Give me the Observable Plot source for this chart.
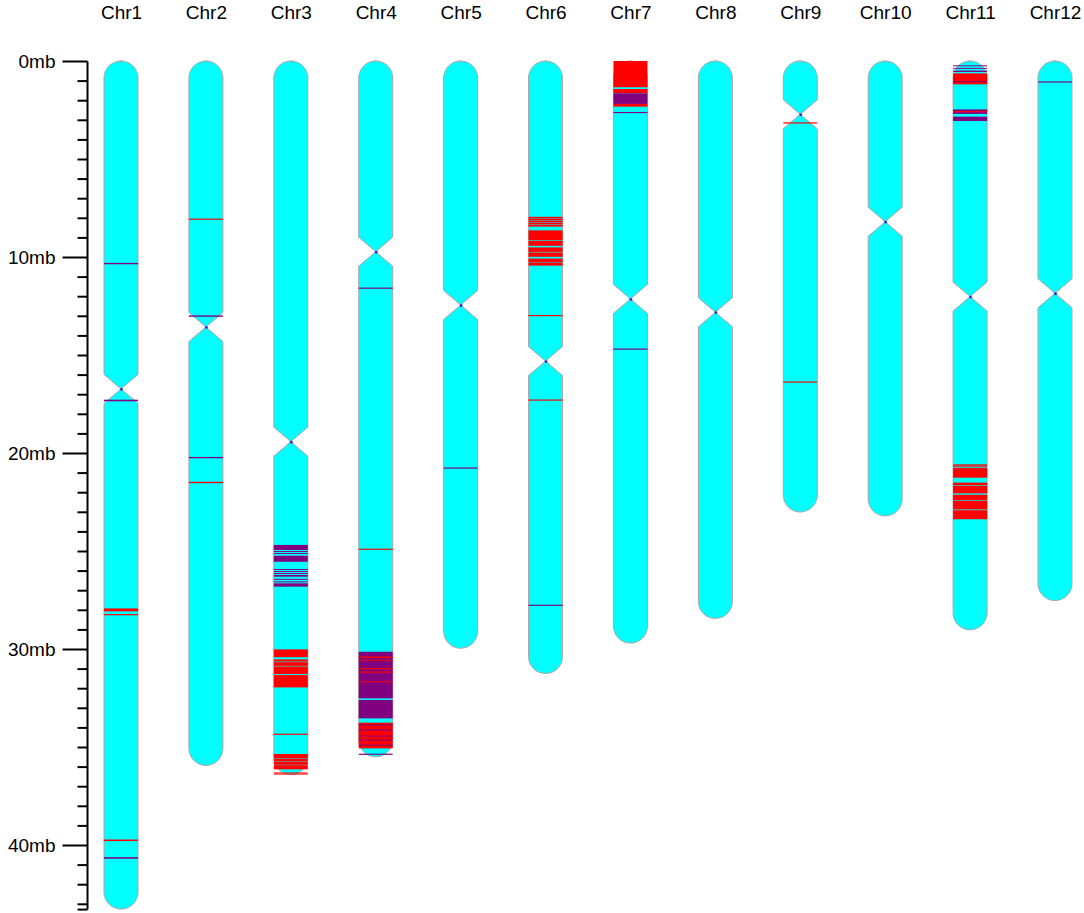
<!DOCTYPE html>
<html>
<head>
<meta charset="utf-8">
<script src="https://cdn.jsdelivr.net/npm/d3@7"></script>
<script src="https://cdn.jsdelivr.net/npm/@observablehq/plot@0.6"></script>
<style>
  html, body { margin: 0; padding: 0; background: #ffffff; }
</style>
</head>
<body>
<div id="chart"></div>
<script>
// ---- data ----
const chromosomes = ["Chr1","Chr2","Chr3","Chr4","Chr5","Chr6","Chr7","Chr8","Chr9","Chr10","Chr11","Chr12"];
const chrLengths  = [43.27, 35.94, 36.41, 35.50, 29.96, 31.25, 29.70, 28.44, 23.01, 23.21, 29.02, 27.53];
const centromeres = [16.73, 13.57, 19.42, 9.73, 12.45, 15.31, 12.14, 12.82, 2.72, 8.20, 12.02, 11.85];
const majorTicks  = [0, 10, 20, 30, 40];
const tickLabels  = ["0mb", "10mb", "20mb", "30mb", "40mb"];
const minorTicks  = d3.range(1, 44).filter(v => v % 10 !== 0).concat([43.27]);
const typeColors  = {R: "#ff0000", P: "#800080"};

// [chromosome, start (mb), end (mb), type]
const markers = [
  ["Chr1", 10.30, 10.37, "P"], ["Chr1", 17.28, 17.36, "P"], ["Chr1", 27.93, 28.08, "R"],
  ["Chr1", 28.22, 28.28, "R"], ["Chr1", 39.72, 39.80, "R"], ["Chr1", 40.62, 40.70, "P"],

  ["Chr2", 8.04, 8.10, "R"], ["Chr2", 12.98, 13.05, "P"], ["Chr2", 20.20, 20.27, "P"], ["Chr2", 21.47, 21.54, "R"],

  ["Chr3", 24.69, 24.95, "P"], ["Chr3", 25.00, 25.05, "P"], ["Chr3", 25.10, 25.15, "P"], ["Chr3", 25.24, 25.55, "P"],
  ["Chr3", 25.92, 25.97, "P"], ["Chr3", 26.02, 26.07, "P"], ["Chr3", 26.12, 26.17, "P"], ["Chr3", 26.22, 26.31, "P"],
  ["Chr3", 26.42, 26.47, "P"], ["Chr3", 26.55, 26.60, "P"], ["Chr3", 26.65, 26.82, "P"],
  ["Chr3", 30.02, 30.42, "R"], ["Chr3", 30.53, 30.64, "R"], ["Chr3", 30.67, 30.86, "R"], ["Chr3", 30.89, 31.28, "R"],
  ["Chr3", 31.33, 31.96, "R"], ["Chr3", 34.32, 34.38, "R"],
  ["Chr3", 35.36, 35.57, "R"], ["Chr3", 35.59, 35.74, "R"], ["Chr3", 35.76, 35.91, "R"], ["Chr3", 35.93, 36.14, "R"],
  ["Chr3", 36.30, 36.36, "R"], ["Chr3", 36.38, 36.41, "R"],

  ["Chr4", 11.56, 11.62, "P"], ["Chr4", 24.88, 24.94, "R"],
  ["Chr4", 30.14, 32.52, "P"], ["Chr4", 30.38, 30.45, "R"], ["Chr4", 30.55, 30.60, "R"], ["Chr4", 30.97, 31.03, "R"],
  ["Chr4", 31.15, 31.21, "R"], ["Chr4", 31.65, 31.70, "R"], ["Chr4", 32.60, 33.54, "P"],
  ["Chr4", 33.76, 35.07, "R"], ["Chr4", 33.86, 33.91, "P"], ["Chr4", 34.10, 34.16, "P"], ["Chr4", 34.42, 34.47, "P"],
  ["Chr4", 34.62, 34.67, "P"], ["Chr4", 34.88, 34.93, "P"], ["Chr4", 35.34, 35.40, "P"],

  ["Chr5", 20.74, 20.80, "P"],

  ["Chr6", 7.95, 8.04, "R"], ["Chr6", 8.06, 8.14, "R"], ["Chr6", 8.16, 8.24, "R"], ["Chr6", 8.26, 8.34, "R"],
  ["Chr6", 8.36, 8.45, "R"], ["Chr6", 8.64, 9.14, "R"], ["Chr6", 9.17, 9.43, "R"], ["Chr6", 9.51, 9.74, "R"],
  ["Chr6", 9.77, 9.99, "R"], ["Chr6", 10.08, 10.26, "R"], ["Chr6", 10.28, 10.44, "R"],
  ["Chr6", 12.96, 13.02, "R"], ["Chr6", 17.27, 17.33, "R"], ["Chr6", 27.74, 27.80, "P"],

  ["Chr7", 0.00, 1.34, "R"], ["Chr7", 1.43, 1.65, "R"], ["Chr7", 1.65, 2.19, "P"], ["Chr7", 2.19, 2.33, "R"],
  ["Chr7", 2.60, 2.66, "P"], ["Chr7", 14.67, 14.73, "P"],

  ["Chr9", 3.13, 3.19, "R"], ["Chr9", 16.35, 16.41, "R"],

  ["Chr11", 0.22, 0.27, "P"], ["Chr11", 0.35, 0.40, "P"], ["Chr11", 0.49, 0.56, "P"], ["Chr11", 0.63, 1.19, "R"],
  ["Chr11", 1.03, 1.08, "P"], ["Chr11", 2.47, 2.70, "P"], ["Chr11", 2.56, 2.61, "R"], ["Chr11", 2.84, 3.06, "P"],
  ["Chr11", 20.58, 20.65, "R"], ["Chr11", 20.68, 20.73, "R"], ["Chr11", 20.77, 21.26, "R"], ["Chr11", 21.51, 21.64, "R"],
  ["Chr11", 21.67, 22.06, "R"], ["Chr11", 22.13, 22.41, "R"], ["Chr11", 22.44, 22.88, "R"], ["Chr11", 22.92, 23.38, "R"],

  ["Chr12", 1.04, 1.10, "P"]
];

// ---- layout constants ----
const W = 1084, H = 913;
const mTop = 61, pxPerMb = 19.6;
const yMax = chrLengths[0];
const mBottom = H - (mTop + yMax * pxPerMb);
const mLeft = 121, mRight = 29;
const pxPerUnit = (W - mLeft - mRight) / (chromosomes.length - 1);
const halfPx = 17;                       // half chromosome width in px
const half = halfPx / pxPerUnit;         // in x units
const taper = 0.74;                      // centromere half-taper (mb)
const capMb = halfPx / pxPerMb;
const axisX = (87 - mLeft) / pxPerUnit;
const majorLen = 25 / pxPerUnit, minorLen = 10 / pxPerUnit;
const fontPx = 19;

// chromosome outline built from lengths/centromeres
const shape = [];
chromosomes.forEach((name, i) => {
  const L = chrLengths[i], c = centromeres[i];
  const ys = [];
  for (let k = 0; k <= 24; k++) {
    const th = (k / 24) * Math.PI / 2;
    ys.push(capMb * (1 - Math.cos(th)));
    ys.push(L - capMb * (1 - Math.cos(th)));
  }
  ys.push(c - taper, c, c + taper);
  ys.sort((a, b) => a - b);
  for (const y of ys) {
    const d = Math.min(y, L - y) * pxPerMb;
    let h = d < halfPx ? Math.sqrt(Math.max(0, halfPx * halfPx - (halfPx - d) * (halfPx - d))) : halfPx;
    const dc = Math.abs(y - c);
    if (dc < taper) h = Math.min(h, halfPx * dc / taper);
    shape.push({chr: name, y, x1: i - h / pxPerUnit, x2: i + h / pxPerUnit});
  }
});

const markerRows = markers.map(([chr, s, e, t]) => {
  const i = chromosomes.indexOf(chr);
  return {x1: i - half, x2: i + half, y1: s, y2: e, color: typeColors[t]};
});

const chrRows = chromosomes.map((name, i) => ({name, i, L: chrLengths[i], c: centromeres[i]}));

const chart = Plot.plot({
  width: W,
  height: H,
  marginTop: mTop,
  marginBottom: mBottom,
  marginLeft: mLeft,
  marginRight: mRight,
  x: {domain: [0, chromosomes.length - 1], axis: null},
  y: {domain: [0, yMax], reverse: true, axis: null},
  style: {fontFamily: "'Liberation Sans', Arial, sans-serif", background: "#ffffff", overflow: "visible"},
  marks: [
    Plot.areaX(shape, {y: "y", x1: "x1", x2: "x2", z: "chr", fill: "#00ffff", stroke: "#b8a0a0", strokeWidth: 1, curve: "linear"}),
    Plot.rect(markerRows, {x1: "x1", x2: "x2", y1: "y1", y2: "y2", fill: "color"}),
    Plot.dot(chrRows, {x: "i", y: "c", r: 1.4, fill: "#2a2ad8"}),
    Plot.text(chrRows, {x: "i", y: () => -2.5, text: "name", fontSize: fontPx, fill: "#000"}),
    Plot.link([0], {x1: axisX, x2: axisX, y1: 0, y2: yMax, stroke: "#000", strokeWidth: 2}),
    Plot.link(majorTicks, {x1: axisX - majorLen, x2: axisX, y1: d => d, y2: d => d, stroke: "#000", strokeWidth: 2}),
    Plot.link(minorTicks, {x1: axisX - minorLen, x2: axisX, y1: d => d, y2: d => d, stroke: "#000", strokeWidth: 2}),
    Plot.text(majorTicks, {x: axisX - majorLen, y: d => d, text: (d, i) => tickLabels[i], textAnchor: "end", dx: -7, fontSize: fontPx, fill: "#000"})
  ]
});
document.getElementById("chart").appendChild(chart);
</script>
</body>
</html>
